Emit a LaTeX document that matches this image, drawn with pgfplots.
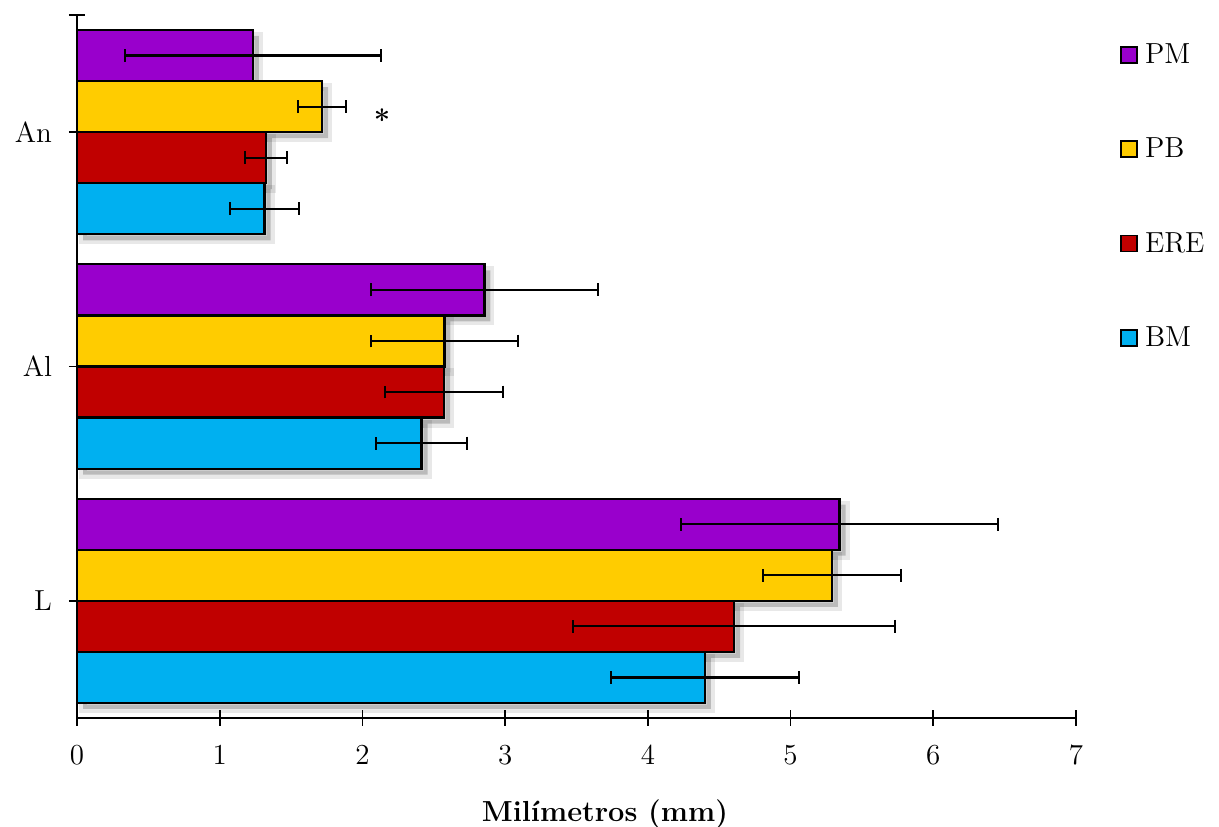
\documentclass[border=0pt]{standalone}
\usepackage{pgfplots}
\usepackage{pgfplotstable}
\pgfplotsset{compat=1.18}
\definecolor{cBM}{HTML}{00B0F0}
\definecolor{cERE}{HTML}{C00000}
\definecolor{cPB}{HTML}{FFCC00}
\definecolor{cPM}{HTML}{9900CC}
\newcommand{\ff}{\fontsize{14.5}{17}\selectfont}

% c: 0 = L, 1 = Al, 2 = An
\pgfplotstableread{
c v e
0 4.400 0.660
1 2.414 0.319
2 1.314 0.242
}\BM
\pgfplotstableread{
c v e
0 4.604 1.128
1 2.572 0.414
2 1.324 0.147
}\ERE
\pgfplotstableread{
c v e
0 5.290 0.484
1 2.575 0.515
2 1.717 0.168
}\PB
\pgfplotstableread{
c v e
0 5.343 1.111
1 2.855 0.795
2 1.233 0.897
}\PM

\begin{document}
\begin{tikzpicture}[font=\ff]
\begin{axis}[
  scale only axis, width=499.5pt, height=351.5pt,
  xmin=0, xmax=7, ymin=-0.5, ymax=2.5,
  axis x line*=bottom, axis y line*=left,
  axis line style={line width=1pt, -},
  tick align=center, major tick length=8pt,
  tick style={line width=0.9pt, black},
  xtick={0,1,...,7},
  ytick={0,1,2}, yticklabels={L,Al,An},
  extra y ticks={2.5}, extra y tick labels={},
  /pgf/number format/assume math mode=true,
  tick label style={font=\ff},
  xticklabel style={anchor=base, yshift=-19.5pt},
  yticklabel style={xshift=-5pt},
  xlabel={\textbf{Milímetros (mm)}},
  xlabel style={font=\ff, at={(rel axis cs:0.5285,0)}, anchor=base, yshift=-52pt},
  bar width=0.218,
  legend image code/.code={\draw[#1,draw=black,line width=0.8pt] (0pt,-4pt) rectangle (8pt,4pt);},
  legend style={draw=none, fill=none, font=\ff, at={(rel axis cs:1,1)}, anchor=north west,
    xshift=22pt, yshift=-12pt, inner sep=0pt, row sep=31.8pt,
    nodes={inner xsep=3.5pt, inner ysep=2pt}},
  legend cell align=left,
  shadow/.style={xbar, forget plot, fill=black, fill opacity=0.2, draw=black, draw opacity=0.09, line width=4pt, xshift=3pt, yshift=-3pt},
  realbar/.style={xbar, forget plot, draw=black, line width=1.1pt},
  errbar/.style={forget plot, draw=none, mark=none,
    error bars/x dir=both, error bars/x explicit,
    error bars/error bar style={draw=black, line width=1.1pt, solid},
    error bars/error mark options={rotate=90, draw=black, line width=1.1pt, mark size=3.2pt}},
]
% shadows
\addplot[shadow, bar shift=0.327] table[x=v, y=c] {\PM};
\addplot[shadow, bar shift=0.109] table[x=v, y=c] {\PB};
\addplot[shadow, bar shift=-0.109] table[x=v, y=c] {\ERE};
\addplot[shadow, bar shift=-0.327] table[x=v, y=c] {\BM};
% bars
\addplot[realbar, fill=cPM, bar shift=0.327] table[x=v, y=c] {\PM};
\addplot[realbar, fill=cPB, bar shift=0.109] table[x=v, y=c] {\PB};
\addplot[realbar, fill=cERE, bar shift=-0.109] table[x=v, y=c] {\ERE};
\addplot[realbar, fill=cBM, bar shift=-0.327] table[x=v, y=c] {\BM};
% error bars
\addplot[errbar] table[x=v, y expr=\thisrow{c}+0.327, x error=e] {\PM};
\addplot[errbar] table[x=v, y expr=\thisrow{c}+0.109, x error=e] {\PB};
\addplot[errbar] table[x=v, y expr=\thisrow{c}-0.109, x error=e] {\ERE};
\addplot[errbar] table[x=v, y expr=\thisrow{c}-0.327, x error=e] {\BM};
% legend
\addlegendimage{fill=cPM}\addlegendentry{PM}
\addlegendimage{fill=cPB}\addlegendentry{PB}
\addlegendimage{fill=cERE}\addlegendentry{ERE}
\addlegendimage{fill=cBM}\addlegendentry{BM}
\node[font=\ff\bfseries] at (axis cs:2.137,2.055) {*};
\end{axis}
\pgfresetboundingbox
\path[use as bounding box] ([shift={(-38.5pt,-54.5pt)}]current axis.south west) rectangle ([shift={(71.5pt,7.5pt)}]current axis.north east);
\end{tikzpicture}
\end{document}
